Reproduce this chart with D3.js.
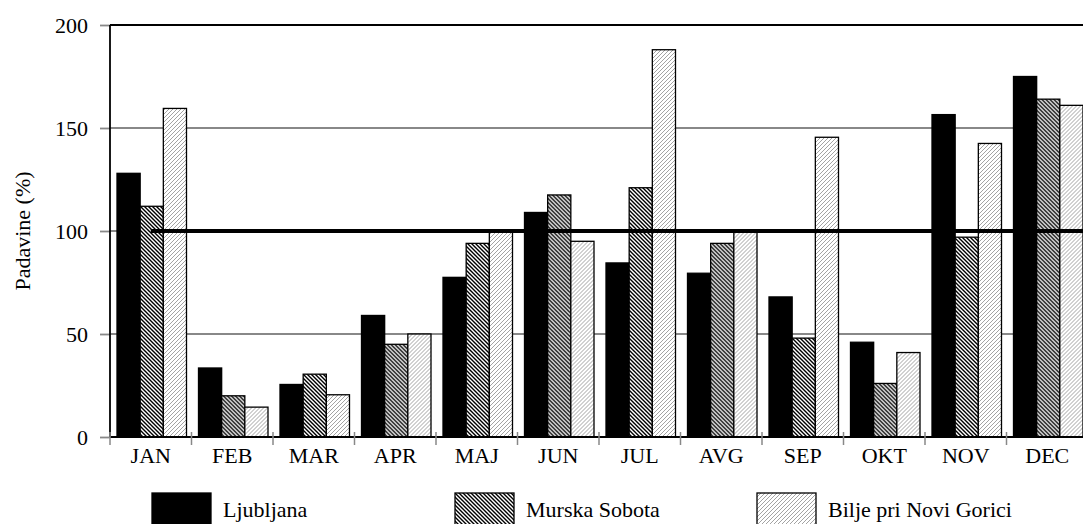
<!DOCTYPE html>
<html><head><meta charset="utf-8">
<script src="https://cdn.jsdelivr.net/npm/d3@7"></script>
<style>
body{margin:0;background:#fff}
svg{display:block}
</style>
</head><body><svg id="c" width="1083" height="524"></svg>
<script>
const months = ["JAN","FEB","MAR","APR","MAJ","JUN","JUL","AVG","SEP","OKT","NOV","DEC"];
const seriesNames = ["Ljubljana","Murska Sobota","Bilje pri Novi Gorici"];
const ljubljana    = [128, 33.5, 25.5, 59, 77.5, 109, 84.5, 79.5, 68, 46, 156.5, 175];
const murskaSobota = [112, 20, 30.5, 45, 94, 117.5, 121, 94, 48, 26, 97, 164];
const bilje        = [159.5, 14.5, 20.5, 50, 100.5, 95, 188, 99.5, 145.5, 41, 142.5, 161];
const yTicks = [0, 50, 100, 150, 200];
const referenceValue = 100;
const yLabel = "Padavine (%)";

const FONT = "Liberation Serif";
const seriesValues = [ljubljana, murskaSobota, bilje];
const fills = ["#000", "url(#pMS)", "url(#pBG)"];

const svg = d3.select("#c").attr("font-family", FONT);
svg.append("rect").attr("width",1083).attr("height",524).attr("fill","#fff");

const defs = svg.append("defs");
// Murska Sobota: dense black "\" hatch
const p1 = defs.append("pattern").attr("id","pMS").attr("patternUnits","userSpaceOnUse")
  .attr("width",4).attr("height",4);
p1.append("rect").attr("width",4).attr("height",4).attr("fill","#fff");
p1.append("path").attr("d","M-1,-1L5,5M-1,3L1,5M3,-1L5,1").attr("stroke","#000").attr("stroke-width",1.4);
// Bilje: light gray "/" hatch
const p2 = defs.append("pattern").attr("id","pBG").attr("patternUnits","userSpaceOnUse")
  .attr("width",4).attr("height",4);
p2.append("rect").attr("width",4).attr("height",4).attr("fill","#fff");
p2.append("path").attr("d","M-1,5L5,-1M-1,1L1,-1M3,5L5,3").attr("stroke","#999").attr("stroke-width",0.9);

const mLeft = 110, mTop = 25, mBottom = 437, catW = 81.5;
const y = d3.scaleLinear().domain([0,200]).range([mBottom, mTop]);
const x0 = d3.scaleBand().domain(months).range([mLeft, mLeft + catW*months.length]).padding(0);
const x1 = d3.scaleBand().domain(d3.range(seriesNames.length)).range([7, 76.5]).padding(0);

function styleText(sel) {
  return sel.attr("font-family", FONT).attr("font-size", 22).attr("fill","#000");
}

// gridlines
svg.append("g").selectAll("line").data(yTicks.filter(d => d > 0 && d < 200)).join("line")
  .attr("x1", mLeft).attr("x2", 1083).attr("y1", d => y(d)).attr("y2", d => y(d))
  .attr("stroke","#888").attr("stroke-width",1.8);
// top border at 200
svg.append("line").attr("x1",mLeft).attr("x2",1083).attr("y1",y(200)).attr("y2",y(200))
  .attr("stroke","#000").attr("stroke-width",1.8);

// y axis
const yAxis = d3.axisLeft(y).tickValues(yTicks).tickSize(10).tickPadding(12);
const gy = svg.append("g").attr("transform",`translate(${mLeft},0)`).call(yAxis);
gy.attr("font-family", FONT).attr("font-size", 22);
gy.select(".domain").remove();
gy.selectAll(".tick line").attr("stroke","#888").attr("stroke-width",1.8);
styleText(gy.selectAll(".tick text"));
svg.append("line").attr("x1",mLeft).attr("x2",mLeft).attr("y1",y(200)).attr("y2",y(0))
  .attr("stroke","#000").attr("stroke-width",1.8);

// bars
const groups = svg.append("g").selectAll("g").data(months).join("g")
  .attr("transform", d => `translate(${x0(d)},0)`);
groups.selectAll("rect").data((m, i) => seriesValues.map((s, k) => ({k, v: s[i]}))).join("rect")
  .attr("x", d => x1(d.k)).attr("width", x1.bandwidth())
  .attr("y", d => y(d.v)).attr("height", d => y(0) - y(d.v))
  .attr("fill", d => fills[d.k]).attr("stroke","#000").attr("stroke-width",1.3);

// x axis
svg.append("line").attr("x1",mLeft).attr("x2",1083).attr("y1",y(0)).attr("y2",y(0))
  .attr("stroke","#000").attr("stroke-width",1.8);
const bounds = d3.range(months.length + 1).map(i => mLeft + i*catW);
svg.append("g").selectAll("line").data(bounds).join("line")
  .attr("x1", d => d).attr("x2", d => d).attr("y1", y(0) - 5).attr("y2", y(0) + 8)
  .attr("stroke","#888").attr("stroke-width",1.5);
styleText(svg.append("g").selectAll("text").data(months).join("text")
  .attr("x", d => x0(d) + catW/2).attr("y", 463).attr("text-anchor","middle")
  .text(d => d));

// reference line at 100
svg.append("line").attr("x1", x0(months[0]) + catW/2).attr("x2", 1088)
  .attr("y1", y(referenceValue)).attr("y2", y(referenceValue))
  .attr("stroke","#000").attr("stroke-width",4);

// y label
styleText(svg.append("text").attr("transform",`translate(30,${y(100)}) rotate(-90)`)
  .attr("text-anchor","middle").text(yLabel));

// legend
const legX = [152, 455, 757];
const leg = svg.append("g").selectAll("g").data(seriesNames).join("g")
  .attr("transform", (d, i) => `translate(${legX[i]},493)`);
leg.append("rect").attr("width",59).attr("height",34)
  .attr("fill", (d, i) => fills[i]).attr("stroke","#000").attr("stroke-width",1.3);
styleText(leg.append("text").attr("x",71).attr("y",24).text(d => d));
</script>
</body></html>
